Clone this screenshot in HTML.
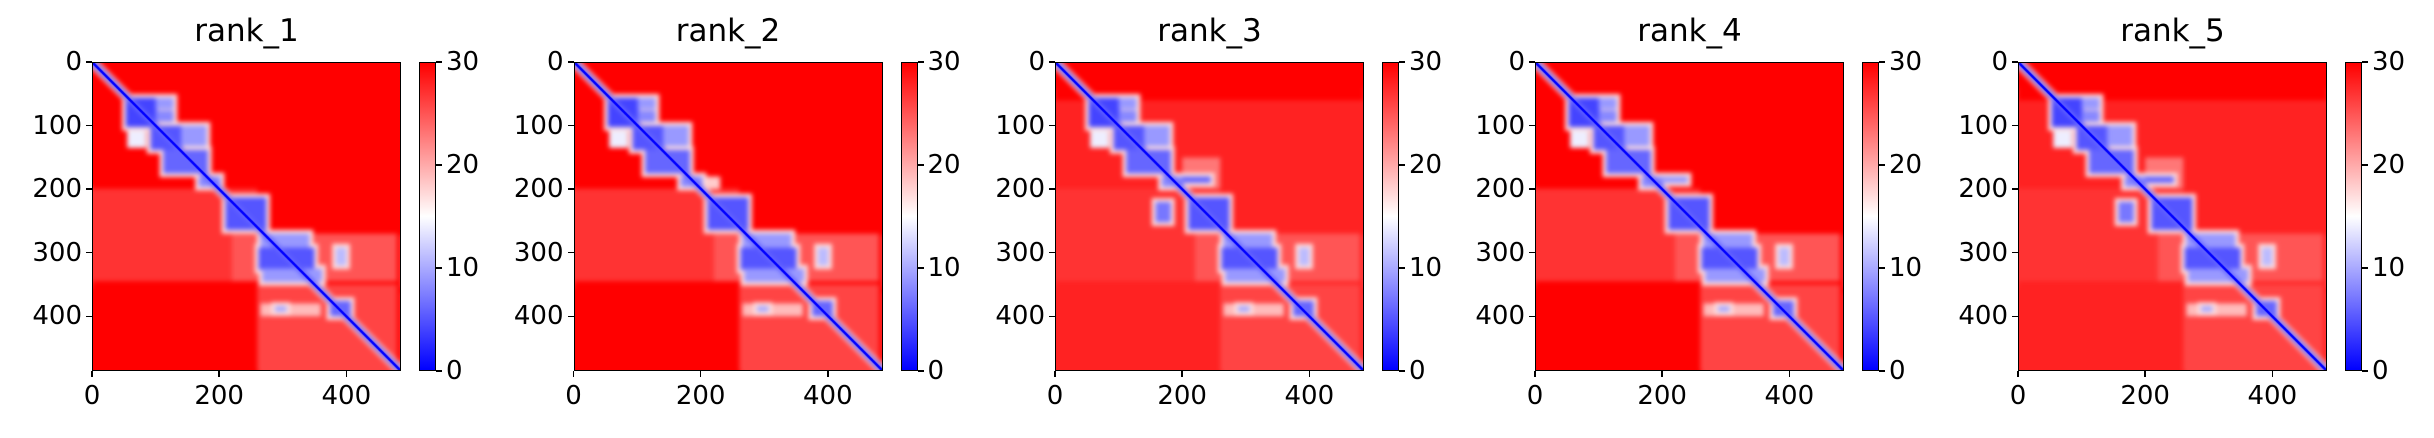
<!DOCTYPE html>
<html><head><meta charset="utf-8">
<style>
html,body{margin:0;padding:0;background:#fff;}
body{width:2434px;height:438px;position:relative;overflow:hidden;font-family:"DejaVu Sans","Liberation Sans",sans-serif;color:#000;}
.abs{position:absolute;}
.title{font-size:31px;line-height:31px;text-align:center;width:309px;}
.tick{font-size:26px;line-height:26px;}
.axes{border:1.5px solid #000;box-sizing:border-box;}
.tk{background:#000;}
.wrap{overflow:hidden;}
</style></head>
<body>
<script>
// ---- data ----
const panelTitles = ["rank_1","rank_2","rank_3","rank_4","rank_5"];
const nRes = 486;
const xTicks = [0,200,400];
const yTicks = [0,100,200,300,400];
const cbarTicks = [0,10,20,30];
const vMin = 0, vMax = 30;
const baseValue = 30;
// background regions: [rowStart,rowEnd,colStart,colEnd,value]
const sharedRegions = [
 [199,345,0,260,27],[270,345,220,480,25],[350,486,260,480,26],[380,400,265,360,19],
 [100,135,55,85,14]
];
// low-error (blue) blocks, drawn with a whitish halo: [rowStart,rowEnd,colStart,colEnd,value]
const sharedBlocks = [
 [56,102,53,102,4],[56,74,100,128,9],[76,94,100,128,8],[100,138,92,142,5],[100,132,140,180,9],
 [138,175,112,182,6],[180,196,168,202,8],[213,264,210,274,5],
 [270,294,265,342,9],[292,327,262,350,5],[325,346,268,362,9],
 [292,320,384,400,11],[376,400,375,407,6],[384,393,288,306,10]
];
const panelExtras = [
 [],
 [[180,200,190,230,18]],
 [[60,486,0,486,28],[150,200,200,260,23]],
 [[180,195,195,230,14]],
 [[60,486,0,486,28],[150,200,200,260,23]]
];
const panelExtraBlocks = [
 [],
 [],
 [[180,190,200,245,6],[220,252,158,182,7]],
 [[180,190,200,240,9]],
 [[180,190,200,245,6],[220,252,158,182,7]]
];
const panelLefts = [92,573.5,1055,1535,2018];
const axTop = 62, axSize = 309, cbOff = 327, cbW = 17;

function bwr(v){
  let t=Math.max(0,Math.min(1,(v-vMin)/(vMax-vMin)));
  let r,g,b;
  if(t<0.5){r=g=Math.round(255*t*2);b=255;}else{r=255;g=b=Math.round(255*(1-t)*2);}
  return `rgb(${r},${g},${b})`;
}
function xScale(v){return v/nRes*axSize;}

panelTitles.forEach((title,p)=>{
  const L=panelLefts[p];
  const t=document.createElement('div');
  t.className='abs title';t.style.left=L+'px';t.style.top='16px';t.textContent=title;
  
  
  document.body.appendChild(t);
  const raw=document.createElement('canvas');raw.width=nRes;raw.height=nRes;
  const rc=raw.getContext('2d');
  rc.fillStyle=bwr(baseValue);rc.fillRect(0,0,nRes,nRes);
  const regs=[...panelExtras[p].filter(r=>r[4]>=20),...sharedRegions,...panelExtras[p].filter(r=>r[4]<20)];
  regs.forEach(r=>{rc.fillStyle=bwr(r[4]);rc.fillRect(r[2],r[0],r[3]-r[2],r[1]-r[0]);});
  const blocks=[...sharedBlocks,...panelExtraBlocks[p]];
  const h=6;
  blocks.forEach(r=>{rc.fillStyle=bwr(17);rc.fillRect(r[2]-h,r[0]-h,r[3]-r[2]+2*h,r[1]-r[0]+2*h);});
  rc.strokeStyle=bwr(18);rc.lineWidth=16;rc.beginPath();rc.moveTo(0,0);rc.lineTo(nRes,nRes);rc.stroke();
  blocks.forEach(r=>{rc.fillStyle=bwr(r[4]);rc.fillRect(r[2],r[0],r[3]-r[2],r[1]-r[0]);});
  rc.strokeStyle=bwr(6);rc.lineWidth=9;rc.beginPath();rc.moveTo(0,0);rc.lineTo(nRes,nRes);rc.stroke();
  const wrap=document.createElement('div');wrap.className='abs wrap';
  wrap.style.cssText=`left:${L}px;top:${axTop}px;width:${axSize}px;height:${axSize}px;`;
  
  
  const pad=document.createElement('canvas');pad.width=nRes+26;pad.height=nRes+26;
  const pc=pad.getContext('2d');
  pc.drawImage(raw,0,0,nRes,nRes,-13,-13,nRes+52,nRes+52);
  pc.drawImage(raw,13,13);
  pad.className='abs';
  pad.style.cssText=`left:-8px;top:-8px;width:${axSize+16}px;height:${axSize+16}px;filter:blur(2.5px);`;
  
  
  wrap.appendChild(pad);
  const dg=document.createElement('canvas');dg.width=nRes;dg.height=nRes;
  const dc=dg.getContext('2d');
  dc.strokeStyle=bwr(0);dc.lineWidth=4;dc.beginPath();dc.moveTo(0,0);dc.lineTo(nRes,nRes);dc.stroke();
  dg.className='abs';dg.style.cssText=`left:0;top:0;width:${axSize}px;height:${axSize}px;`;
  
  
  wrap.appendChild(dg);
  document.body.appendChild(wrap);
  const fr=document.createElement('div');fr.className='abs axes';
  fr.style.cssText=`left:${L}px;top:${axTop}px;width:${axSize}px;height:${axSize}px;`;
  
  
  document.body.appendChild(fr);
  xTicks.forEach(v=>{
    const x=L+xScale(v);
    const k=document.createElement('div');k.className='abs tk';k.style.cssText=`left:${x-0.75}px;top:${axTop+axSize}px;width:1.5px;height:6px;`;
    
    
    document.body.appendChild(k);
    const l=document.createElement('div');l.className='abs tick';l.style.cssText=`left:${x-40}px;width:80px;text-align:center;top:${axTop+axSize+12}px;`;l.textContent=v;
    
    
    document.body.appendChild(l);
  });
  yTicks.forEach(v=>{
    const y=axTop+xScale(v);
    const k=document.createElement('div');k.className='abs tk';k.style.cssText=`left:${L-6}px;top:${y-0.75}px;width:6px;height:1.5px;`;
    
    
    document.body.appendChild(k);
    const l=document.createElement('div');l.className='abs tick';l.style.cssText=`left:${L-110}px;width:100px;text-align:right;top:${y-13}px;`;l.textContent=v;
    
    
    document.body.appendChild(l);
  });
  const cb=document.createElement('div');cb.className='abs';
  cb.style.cssText=`left:${L+cbOff}px;top:${axTop}px;width:${cbW}px;height:${axSize}px;box-sizing:border-box;border:1.5px solid #000;background:linear-gradient(to top,${bwr(0)},${bwr(15)},${bwr(30)});`;
  
  
  document.body.appendChild(cb);
  cbarTicks.forEach(v=>{
    const y=axTop+axSize*(1-(v-vMin)/(vMax-vMin));
    const k=document.createElement('div');k.className='abs tk';k.style.cssText=`left:${L+cbOff+cbW}px;top:${y-0.75}px;width:6px;height:1.5px;`;
    
    
    document.body.appendChild(k);
    const l=document.createElement('div');l.className='abs tick';l.style.cssText=`left:${L+cbOff+cbW+10}px;top:${y-13}px;`;l.textContent=v;
    
    
    document.body.appendChild(l);
  });
});
</script>
</body></html>
